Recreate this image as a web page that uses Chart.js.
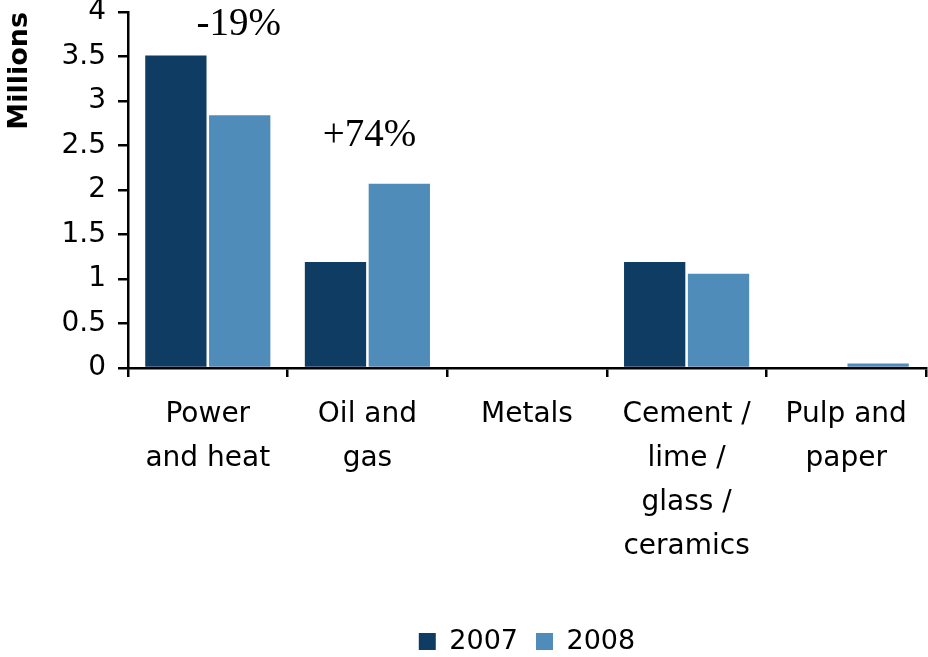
<!DOCTYPE html>
<html>
<head>
<meta charset="utf-8">
<script src="https://cdn.jsdelivr.net/npm/chart.js@4/dist/chart.umd.min.js"></script>
<style>
html,body{margin:0;padding:0;background:#fff;}
#wrap{width:928px;height:657px;position:relative;}
</style>
</head>
<body>
<div id="wrap"><canvas id="c" width="928" height="657"></canvas></div>
<script>
const categories = [["Power","and heat"],["Oil and","gas"],"Metals",["Cement /","lime /","glass /","ceramics"],["Pulp and","paper"]];
const seriesNames = ["2007","2008"];
const values2007 = [3.51, 1.19, 0, 1.19, 0];
const values2008 = [2.84, 2.07, 0, 1.06, 0.05];
const yTicks = {min:0, max:4, step:0.5};
const annotations = [
  {text:"-19%", category:0, value:3.74, dx:31},
  {text:"+74%", category:1, value:2.49, dx:2}
];

const colors = ["#0F3C63", "#4F8CB9"];

const annotationPlugin = {
  id:'annot',
  afterDatasetsDraw(chart){
    const ctx = chart.ctx, xs = chart.scales.x, ys = chart.scales.y;
    ctx.save();
    ctx.font = '39px "Liberation Serif", "Times New Roman", serif';
    ctx.fillStyle = '#000';
    ctx.textAlign = 'center';
    ctx.textBaseline = 'alphabetic';
    annotations.forEach(a=>{
      ctx.fillText(a.text, xs.getPixelForValue(a.category) + a.dx, ys.getPixelForValue(a.value));
    });
    ctx.restore();
  }
};

new Chart(document.getElementById('c'), {
  type:'bar',
  data:{
    labels:categories,
    datasets:[
      {label:seriesNames[0], data:values2007, backgroundColor:colors[0], borderWidth:0},
      {label:seriesNames[1], data:values2008, backgroundColor:colors[1], borderWidth:0}
    ]
  },
  options:{
    responsive:false,
    animation:false,
    layout:{padding:{top:12,right:2,left:0,bottom:-8}},
    datasets:{bar:{categoryPercentage:0.8, barPercentage:0.96}},
    plugins:{
      legend:{
        position:'bottom',
        fullSize:false,
        labels:{
          font:{family:'"DejaVu Sans", sans-serif', size:27},
          color:'#000',
          boxWidth:17, boxHeight:17, padding:18
        }
      },
      tooltip:{enabled:false}
    },
    scales:{
      x:{
        grid:{display:true, drawOnChartArea:false, drawTicks:true, tickLength:9, color:'#000', lineWidth:2.5},
        border:{display:true, color:'#000', width:2.5},
        ticks:{
          font:{family:'"DejaVu Sans", sans-serif', size:28, lineHeight:1.571},
          color:'#000', maxRotation:0, minRotation:0, autoSkip:false, padding:16
        },
        afterFit(scale){ scale.height = 242; }
      },
      y:{
        min:yTicks.min, max:yTicks.max,
        grid:{display:true, drawOnChartArea:false, drawTicks:true, tickLength:10, color:'#000', lineWidth:2.5},
        border:{display:true, color:'#000', width:2.5},
        ticks:{
          stepSize:yTicks.step,
          callback:(v)=>String(v),
          font:{family:'"DejaVu Sans", sans-serif', size:28},
          color:'#000', padding:12
        },
        title:{
          display:true, text:'Millions', align:'end',
          font:{family:'"DejaVu Sans", sans-serif', size:27, weight:'bold'},
          color:'#000', padding:{top:4,bottom:0}
        },
        afterFit(scale){ scale.width = 128; scale.paddingTop = 0; scale.paddingBottom = 0; }
      }
    }
  },
  plugins:[annotationPlugin]
});
</script>
</body>
</html>
